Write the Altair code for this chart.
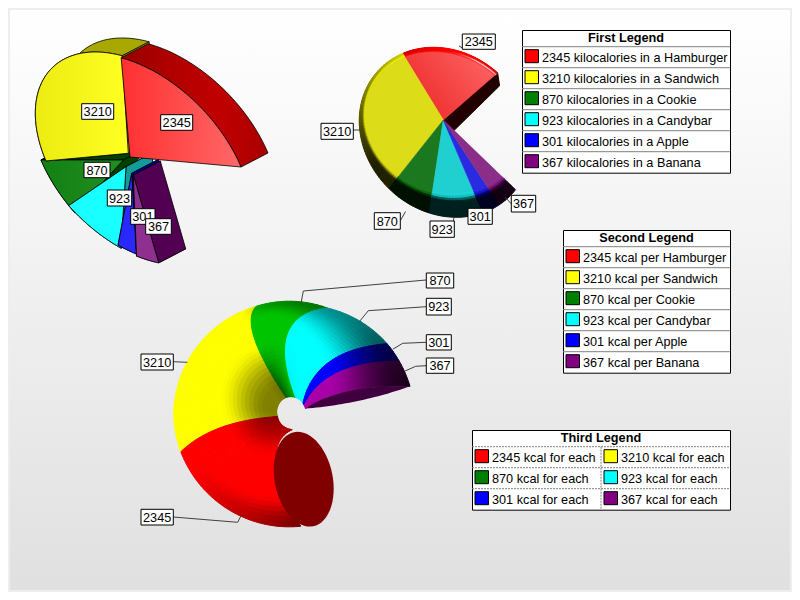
import altair as alt
import numpy as np
import pandas as pd

# ---------- data ----------
VALUES = [2345, 3210, 870, 923, 301, 367]
FOODS = ["Hamburger", "Sandwich", "Cookie", "Candybar", "Apple", "Banana"]
PURE = ["#ff0000", "#ffff00", "#008000", "#00ffff", "#0000ff", "#800080"]
LEGEND_TITLES = ["First Legend", "Second Legend", "Third Legend"]

# ---------- layout (geometry and style, kept apart from the data) ----------
TOTAL = sum(VALUES)
FONT = "Liberation Sans"
FS = 12.7
xs = alt.Scale(domain=[8, 792], range=[0, 784], nice=False, zero=False)
ys = alt.Scale(domain=[8, 592], range=[0, 584], nice=False, zero=False)
X = alt.X("x:Q", scale=xs, axis=None)
Y = alt.Y("y:Q", scale=ys, axis=None)
X2 = alt.X2("x2:Q")
Y2 = alt.Y2("y2:Q")

layers = []


def hex2rgb(h):
    return np.array([int(h[i:i + 2], 16) for i in (1, 3, 5)], dtype=float)


def rgb2hex(c):
    c = np.clip(np.round(c), 0, 255).astype(int)
    return "#%02x%02x%02x" % tuple(c)


def ss(a, b, x):
    t = np.clip((x - a) / (b - a), 0, 1)
    return t * t * (3 - 2 * t)


def dirv(phi):
    r = np.radians(phi)
    return np.array([np.sin(r), -np.cos(r)])


def face(pts, fill, stroke="#000000", sw=1.0):
    pts = np.asarray(pts)
    df = pd.DataFrame({"x": pts[:, 0], "y": pts[:, 1], "i": range(len(pts))})
    kw = dict(interpolate="linear-closed", fill=fill)
    if stroke:
        kw.update(stroke=stroke, strokeWidth=sw)
    else:
        kw.update(strokeWidth=0)
    layers.append(alt.Chart(df).mark_line(**kw).encode(x=X, y=Y, order="i:Q"))


def cells(polys, sw=0.7):
    rows = []
    for p, (pts, col) in enumerate(polys):
        for i, (x, y) in enumerate(pts):
            rows.append((round(float(x), 2), round(float(y), 2), i, p, col))
    df = pd.DataFrame(rows, columns=["x", "y", "i", "p", "c"])
    layers.append(
        alt.Chart(df).mark_line(interpolate="linear-closed", strokeWidth=sw).encode(
            x=X, y=Y, order="i:Q", detail="p:N",
            fill=alt.Fill("c:N", scale=None), stroke=alt.Stroke("c:N", scale=None))
    )


def hgrad(*stops, x1=0, y1=0, x2=1, y2=0):
    n = len(stops) - 1
    return alt.LinearGradient(gradient="linear", x1=x1, y1=y1, x2=x2, y2=y2,
                              stops=[alt.GradientStop(color=c, offset=i / n) for i, c in enumerate(stops)])


def boxes(df, fill="#ffffff", stroke="#000000", sw=1):
    layers.append(alt.Chart(df).mark_rect(fill=fill, stroke=stroke, strokeWidth=sw).encode(x=X, x2=X2, y=Y, y2=Y2))


def texts(df, align="center", bold=False):
    layers.append(alt.Chart(df).mark_text(font=FONT, fontSize=FS, align=align, baseline="middle",
                                          fontWeight="bold" if bold else "normal", color="#000000")
                  .encode(x=X, y=Y, text="t:N"))


def label_boxes(items):
    # each label is drawn box + text in order so that later ones cover earlier ones
    for t, x0, x1, y0, y1 in items:
        boxes(pd.DataFrame([dict(x=x0, x2=x1, y=y0, y2=y1)]))
        texts(pd.DataFrame([dict(x=(x0 + x1) / 2, y=(y0 + y1) / 2 + 0.5, t=t)]))


def leaders(lines):
    rows = []
    for k, pts in enumerate(lines):
        for i, (x, y) in enumerate(pts):
            rows.append(dict(x=x, y=y, i=i, k=k))
    layers.append(alt.Chart(pd.DataFrame(rows)).mark_line(color="#404040", strokeWidth=1).encode(
        x=X, y=Y, order="i:Q", detail="k:N"))


# ---------- background ----------
boxes(pd.DataFrame([dict(x=8, x2=792, y=8, y2=592)]), fill="#eeeeee", stroke="#eeeeee", sw=0)
layers.append(alt.Chart(pd.DataFrame([dict(x=10, x2=790, y=10, y2=590)])).mark_rect(
    fill=hgrad("#ffffff", "#e0e0e0", x2=0, y2=1)).encode(x=X, x2=X2, y=Y, y2=Y2))

# cumulative shares shared by the three pies
cum = np.concatenate([[0], np.cumsum(VALUES)]) / TOTAL

# ---------- pie 1: exploded, strongly tilted, deep ----------
P1_C = np.array([142.0, 162.0])
P1_C1 = np.array([47.0, 111.0])
P1_C2 = np.array([98.0, 2.0])
P1_SPAN = 259.7
P1_DEPTH = np.array([27.0, -14.0])
P1_APEX = [(130, 157), (128.3, 153.3), (123.3, 160), (126, 166.7), (131.7, 173.3), (133.3, 175)]
P1_SHIFT = [(1, 3), (2, 1), (-3, 0), (-9, -7), (-12, -10), (-12, -8)]
P1_TOP = [hgrad("#ff3030", "#ff6868"), hgrad("#ecec12", "#ffff22"), hgrad("#128012", "#228e22"),
          "#19ffff", "#2828ff", "#8f2f8f"]
P1_WALL = [hgrad("#960000", "#b00000", "#c00000", "#a80000"), "#a8a800", "#004000", "#159a9a", "#0000a0", "#520052"]
for s in [2, 1, 3, 4, 5, 0]:
    ts = np.radians(np.linspace(cum[s], cum[s + 1], 40) * P1_SPAN)
    rim = np.array([P1_C - P1_C1 * np.sin(t) + P1_C2 * np.cos(t) + np.array(P1_SHIFT[s]) for t in ts])
    apex = np.array(P1_APEX[s], dtype=float)
    d = P1_DEPTH
    face(np.vstack([rim, (rim + d)[::-1]]), P1_WALL[s], sw=0.8)
    if s:
        face([apex, rim[0], rim[0] + d, apex + d], P1_WALL[s], sw=0.8)
        face([apex, rim[-1], rim[-1] + d, apex + d], P1_WALL[s], sw=0.8)
    face(np.vstack([[apex], rim]), P1_TOP[s], sw=0.8)

label_boxes([
    ("2345", 160.7, 192.7, 114.7, 130.3), ("3210", 81.7, 113.7, 103.7, 119.3),
    ("870", 84, 110, 162.3, 177.7), ("923", 107.3, 131.7, 190, 206),
    ("301", 130.7, 155, 208.7, 224.3), ("367", 145.7, 171.3, 218.7, 234.3),
])

# ---------- pie 2: bevelled disc ----------
P2_A = np.array([443.3, 120.0])
P2_O = np.array([445.0, 132.3])
P2_R = 85.0
P2_I = np.array([443.3, 122.7])
P2_RX, P2_RY = 78.0, 71.0
P2_K = 0.136
P2_START = 49.0
P2_SPAN = 275.0
P2_FLAT = ["#f84040", "#dcdc18", "#1c781f", "#20d0d0", "#2a2ae0", "#8a2e8a"]
P2_FACE = [hgrad("#ee2c2c", "#ff6868", x1=0, y1=0.6, x2=1, y2=0), "#dcdc18", "#1c781f", "#20d0d0", "#2a2ae0", "#8a2e8a"]


def polar_lookup(cx, rx, ry, k):
    psi = np.radians(np.arange(0, 360, 0.5))
    x = cx[0] + rx * np.sin(psi) - k * ry * np.cos(psi) - P2_A[0]
    y = cx[1] - ry * np.cos(psi) - P2_A[1]
    ang = np.degrees(np.arctan2(x, -y)) % 360
    rad = np.hypot(x, y)
    o = np.argsort(ang)
    return lambda ph: np.interp(ph % 360, ang[o], rad[o], period=360)


r_out = polar_lookup(P2_O, P2_R, P2_R, P2_K)
r_in = polar_lookup(P2_I, P2_RX, P2_RY, P2_K)
a_end = P2_A + r_out(P2_START) * dirv(P2_START)
face([P2_A, a_end, a_end + np.array([2, 13]), P2_A + np.array([0, 21])], "#200000", stroke="#200000", sw=1)

ring = []
for s in range(6):
    p0 = P2_START - cum[s] * P2_SPAN
    p1 = P2_START - cum[s + 1] * P2_SPAN
    ph = np.linspace(p0, p1, max(3, int(abs(p1 - p0) / 2) + 1))
    inner = [P2_A + r_in(a) * dirv(a) for a in ph]
    face([P2_A] + inner, P2_FACE[s], stroke=P2_FLAT[s], sw=0.6)
    base = hex2rgb(PURE[s])
    flat = hex2rgb(P2_FLAT[s])
    vs = np.linspace(0, 1, 11)
    for a0, a1 in zip(ph[:-1], ph[1:]):
        am = (a0 + a1) / 2
        t = (1 - np.cos(np.radians(am - 10))) / 2
        for v0, v1 in zip(vs[:-1], vs[1:]):
            vm = (v0 + v1) / 2
            dark = min(0.88, t ** 0.8) * ss(0, 0.35 + 0.6 * (1 - t), vm)
            col = base * (1 - dark)
            w = 0.85 * max(0, np.cos(np.radians(am - 38))) ** 14 * np.exp(-((vm - 0.42) / 0.22) ** 2)
            col = col * (1 - w) + 255 * w
            m = ss(0, 0.3, vm)
            col = flat * (1 - m) + col * m
            q = []
            for a, v in ((a0, v0), (a1, v0), (a1, v1), (a0, v1)):
                q.append(P2_A + (r_in(a) * (1 - v) + r_out(a) * v) * dirv(a))
            ring.append((q, rgb2hex(col)))
cells(ring, sw=1)

leaders([
    [(462.5, 48), (459, 46)],
    [(353, 130), (361, 130)],
    [(400.5, 220.5), (405.5, 211.5)],
    [(453.7, 225), (453.7, 218)],
    [(511.5, 204), (505, 197)],
])
label_boxes([
    ("2345", 462.3, 495.3, 34, 49.3), ("3210", 321, 353.3, 123.3, 139.3),
    ("870", 374.3, 400.3, 212.7, 229.3), ("923", 430, 454.3, 221, 237.3),
    ("301", 468, 492.3, 208.3, 224.3), ("367", 511.3, 535.7, 195.3, 212),
])

# ---------- pie 3: tube-shaped sectors round a small hole ----------
P3_Z = np.array([290.7, 411.7])
P3_R0 = ([175, 252, 300, 360, 438], [18, 14, 14, 15, 15])
P3_BOW = np.array([-16.7, -13.3])
P3_START = 175.0
P3_SPAN = 263.0
P3_PHI = [175, 252, 300, 357, 386, 416, 426, 438]
P3_BOWK = [1.2, 0.5, 0.8, 1.0, 1.4, 0.9, 0.8, 0.5]
P3_WARP = [0, -2, -8, -15.4, -6.3, -1.3, -1, 0]
P3_RTAB = ([175, 252, 270, 340, 380, 415, 438], [115, 117, 117, 111, 110, 118, 122])
P3_BASE = ["#ff0000", "#ffff00", "#00c400", "#00ffff", "#0000ff", "#a800a8"]


def warp(phi):
    return phi + np.interp(phi, P3_PHI, P3_WARP)


def p3(phi, u):
    ps = warp(phi)
    R = np.interp(ps, *P3_RTAB)
    r0 = np.interp(phi, *P3_R0)
    k = np.interp(phi, P3_PHI, P3_BOWK)
    return P3_Z + (r0 + (R - r0) * u) * dirv(ps) + P3_BOW * k * 4 * u * (1 - u)


def p3_shade(phi, u):
    A = np.interp(phi, [175, 200, 240, 350, 372, 400, 420, 438], [0.55, 0.3, 0, 0, 0.35, 0.5, 0.7, 0.85])
    u0 = np.interp(phi, [175, 372, 400, 425, 438], [0.78, 0.7, 0.55, 0.4, 0.25])
    B = np.interp(phi, [175, 200, 252, 270, 330, 357, 386, 400], [0.3, 0.3, 0.45, 0.5, 0.5, 0.55, 0.05, 0])
    return (1 - A * ss(u0, 1, u)) * (1 - B * ss(0.45, 0.05, u))


tube = []
for s in [1, 0, 2, 3, 4, 5]:
    p0 = P3_START + cum[s] * P3_SPAN
    p1 = P3_START + cum[s + 1] * P3_SPAN
    ph = np.linspace(p0, p1, max(3, int((p1 - p0) / 2) + 1))
    us = np.linspace(0, 1, 31)
    base = hex2rgb(P3_BASE[s])
    for a0, a1 in zip(ph[:-1], ph[1:]):
        for u0, u1 in zip(us[:-1], us[1:]):
            col = base * p3_shade((a0 + a1) / 2, (u0 + u1) / 2)
            tube.append(([p3(a0, u0), p3(a1, u0), p3(a1, u1), p3(a0, u1)], rgb2hex(col)))
cells(tube, sw=1)

# end caps: red is a full tilted ellipse, purple is seen almost edge-on
cap_c = np.array([303.7, 479.2])
cap_d = np.array([0.2, 0.98])
cap_s = np.array([0.98, -0.2])
tt = np.radians(np.arange(0, 360, 6))
face([cap_c + cap_d * 48 * np.cos(a) + cap_s * 29 * np.sin(a) for a in tt], "#800000", stroke=None)

uu = np.linspace(0, 1, 30)
end_p = P3_START + P3_SPAN
m = np.array([p3(end_p, u) for u in uu])
dr = dirv(warp(end_p))
perp = np.array([-dr[1], dr[0]])
back = [m[0] + (m[-1] - m[0]) * u + perp * 3.5 * 4 * u * (1 - u) for u in uu[::-1]]
face(np.vstack([m, back]), "#400040", stroke=None)

leaders([
    [(426, 280), (303.3, 291), (301, 303.3)],
    [(426, 306.7), (368.3, 310.7), (359.3, 321.7)],
    [(426, 342.3), (402.7, 343.3), (392.7, 349.3)],
    [(426, 365.7), (415.7, 366.3), (405, 371)],
    [(173.3, 361.7), (187.3, 362.3)],
    [(173.3, 517), (237.7, 522.3), (241, 515.7)],
])
label_boxes([
    ("870", 426.3, 453.7, 273, 288), ("923", 426.3, 451.3, 298.3, 315),
    ("301", 426.3, 451.3, 334.7, 350), ("367", 426.3, 453.7, 358, 373.3),
    ("3210", 141, 173.3, 354, 370), ("2345", 141, 173.3, 509.3, 525),
])


# ---------- legends ----------
def legend(title, x0, x1, y0, rows, columns=1, dashed=False, swatch_gap=17):
    head = 16.7
    rh = 21
    nrow = int(np.ceil(len(rows) / columns))
    y1 = y0 + head + nrow * rh
    boxes(pd.DataFrame([dict(x=x0 + .5, x2=x1 + .5, y=y0 + .5, y2=y1 + .5)]))
    lines = []
    for r in range(nrow):
        yy = y0 + head + r * rh
        lines.append(dict(x=x0, x2=x1, y=yy, y2=yy))
    cw = 129.0 if columns == 2 else x1 - x0
    if columns == 2:
        lines.append(dict(x=x0 + cw, x2=x0 + cw, y=y0 + head, y2=y1))
    kw = dict(strokeDash=[2, 1]) if dashed else {}
    layers.append(alt.Chart(pd.DataFrame(lines)).mark_rule(color="#808080", strokeWidth=1, **kw).encode(
        x=X, x2=X2, y=Y, y2=Y2))
    sw_rows, tx_rows = [], []
    for i, (txt, col) in enumerate(rows):
        c, r = i % columns, i // columns
        sx = x0 + 3 + c * cw
        sy = y0 + head + r * rh + 3
        sw_rows.append(dict(x=sx, x2=sx + 13.5, y=sy, y2=sy + 13, c=col))
        tx_rows.append(dict(x=sx + swatch_gap, y=sy + 8, t=txt))
    layers.append(alt.Chart(pd.DataFrame(sw_rows)).mark_rect(stroke="#000000", strokeWidth=1).encode(
        x=X, x2=X2, y=Y, y2=Y2, fill=alt.Fill("c:N", scale=None)))
    texts(pd.DataFrame(tx_rows), align="left")
    texts(pd.DataFrame([dict(x=(x0 + x1) / 2, y=y0 + 8, t=title)]), bold=True)


legend(LEGEND_TITLES[0], 522, 730, 30,
       [(f"{v} kilocalories in a {f}", c) for v, f, c in zip(VALUES, FOODS, PURE)])
legend(LEGEND_TITLES[1], 563, 730, 230,
       [(f"{v} kcal per {f}", c) for v, f, c in zip(VALUES, FOODS, PURE)])
legend(LEGEND_TITLES[2], 472, 730, 430,
       [(f"{v} kcal for each", c) for v, c in zip(VALUES, PURE)], columns=2, dashed=True)

chart = alt.layer(*layers).properties(width=784, height=584, padding=0, background="transparent") \
    .configure_view(stroke=None)
chart = chart.properties(autosize=alt.AutoSizeParams(type="none"))
chart.save("out.html", embed_options={"renderer": "svg", "actions": False})
